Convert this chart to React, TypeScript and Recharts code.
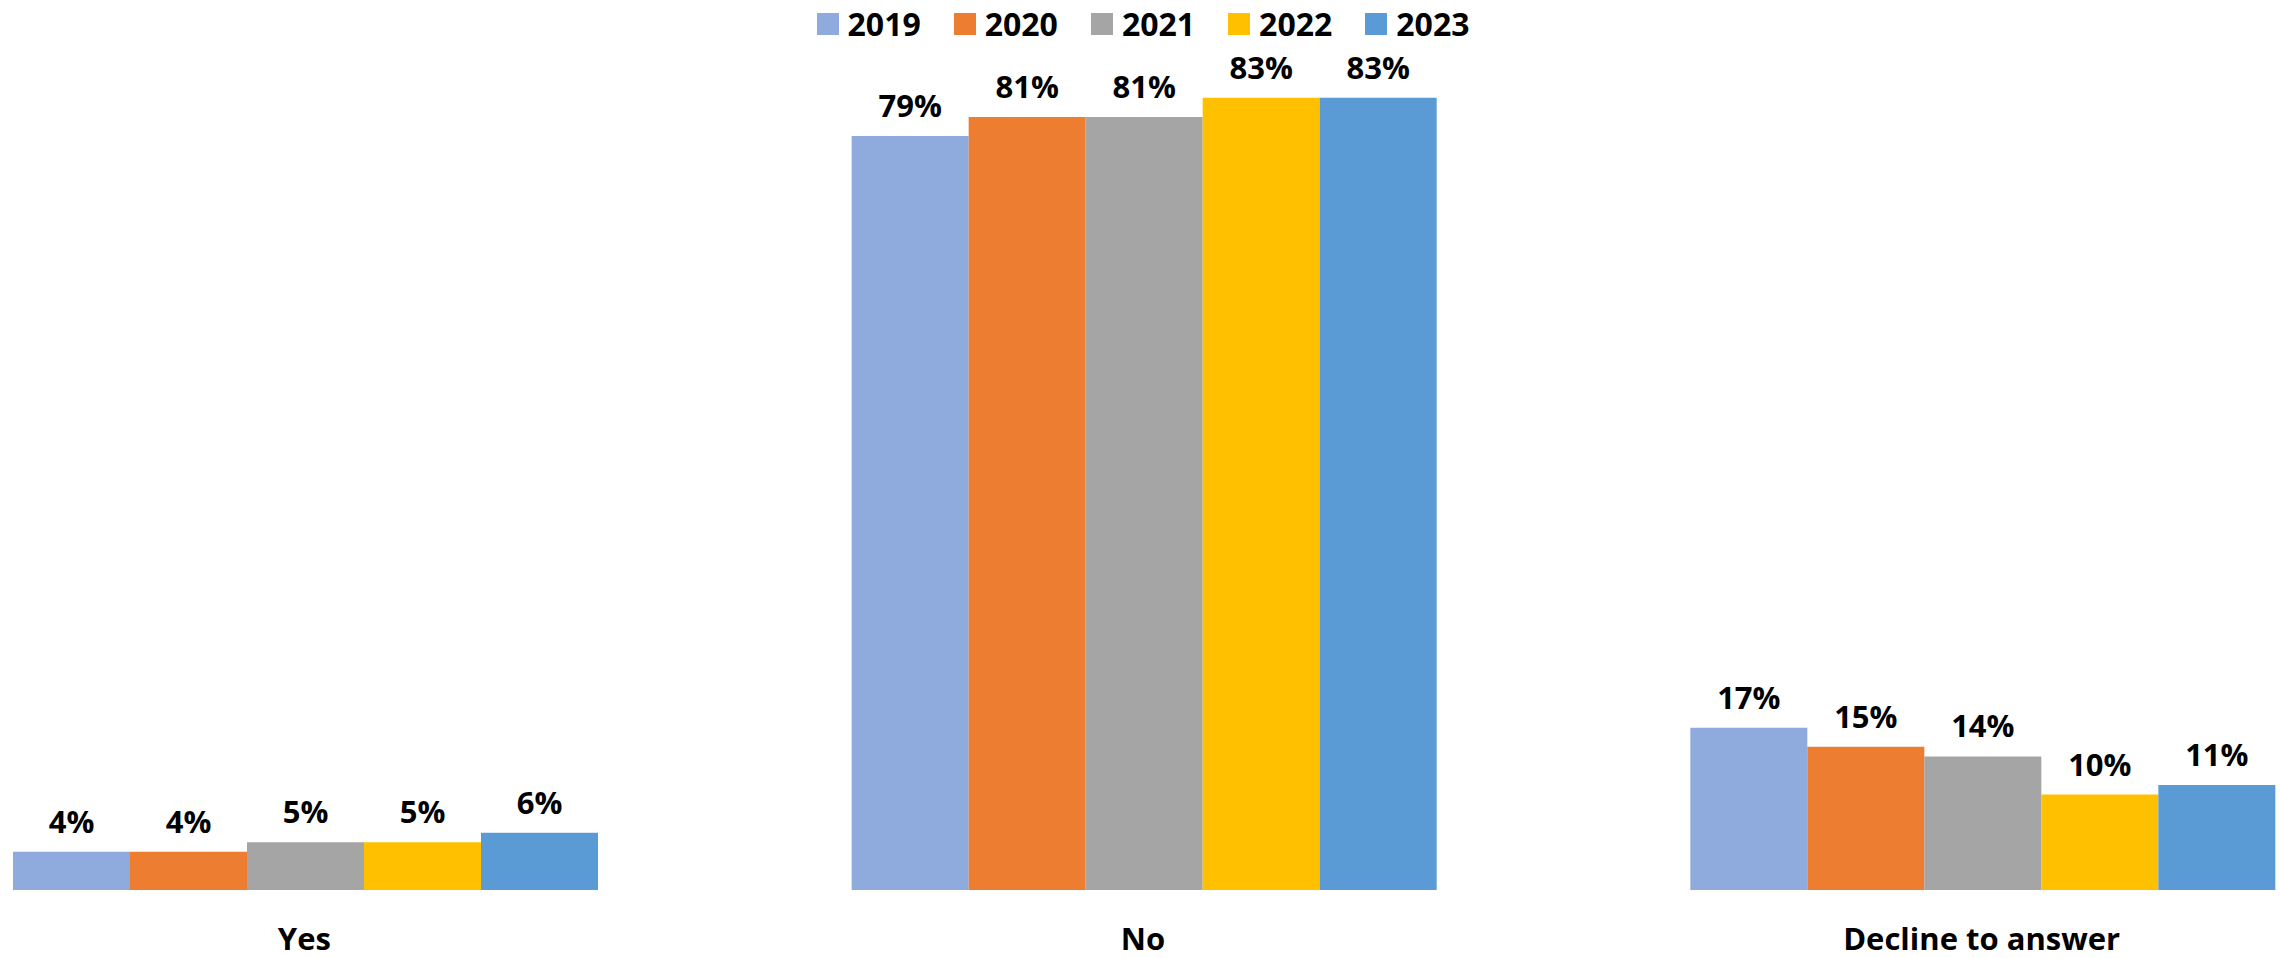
import React from "react";
import { BarChart, Bar, XAxis, YAxis, Legend, LabelList } from "recharts";

const categories = ["Yes", "No", "Decline to answer"];
const years = ["2019", "2020", "2021", "2022", "2023"];
const colors = ["#8FAADC", "#ED7D31", "#A5A5A5", "#FFC000", "#5B9BD5"];
const v2019 = [4, 79, 17];
const v2020 = [4, 81, 15];
const v2021 = [5, 81, 14];
const v2022 = [5, 83, 10];
const v2023 = [6, 83, 11];
const seriesValues = [v2019, v2020, v2021, v2022, v2023];

const data = categories.map((c, i) => {
  const row: any = { name: c };
  years.forEach((y, k) => {
    row[y] = seriesValues[k][i];
  });
  return row;
});

const FONT = "'Open Sans', sans-serif";

const LegendContent = () => (
  <div style={{ display: "flex", justifyContent: "center", alignItems: "center", fontFamily: FONT }}>
    {years.map((y, i) => (
      <div key={y} style={{ display: "flex", alignItems: "center", marginRight: i < years.length - 1 ? 33 : 0 }}>
        <div style={{ width: 22, height: 22, background: colors[i], marginRight: 9 }} />
        <span style={{ fontSize: 32, fontWeight: 700, color: "#000", lineHeight: "44px" }}>{y}</span>
      </div>
    ))}
  </div>
);

export default function App() {
  return (
    <div style={{ position: "absolute", left: 0, top: 0, width: 2280, height: 958, overflow: "hidden", background: "#fff" }}>
      <div style={{ position: "absolute", left: -115, top: 0 }}>
        <BarChart
          width={2516}
          height={958}
          data={data}
          margin={{ top: 31, right: 0, bottom: 0, left: 0 }}
          barCategoryGap={128}
          barGap={0}
        >
          <XAxis
            dataKey="name"
            axisLine={false}
            tickLine={false}
            tickSize={0}
            tickMargin={38}
            height={68}
            interval={0}
            tick={{ fill: "#000", fontSize: 31, fontWeight: 700, fontFamily: FONT }}
          />
          <YAxis hide domain={[0, 90]} />
          <Legend
            verticalAlign="middle"
            align="center"
            layout="horizontal"
            content={<LegendContent />}
            wrapperStyle={{ top: 2, left: 0, width: 2516 }}
          />
          {years.map((y, i) => (
            <Bar key={y} dataKey={y} fill={colors[i]} isAnimationActive={false}>
              <LabelList
                dataKey={y}
                position="top"
                offset={19}
                formatter={(v: any) => `${v}%`}
                style={{ fill: "#000", fontSize: 31, fontWeight: 700, fontFamily: FONT }}
              />
            </Bar>
          ))}
        </BarChart>
      </div>
    </div>
  );
}
